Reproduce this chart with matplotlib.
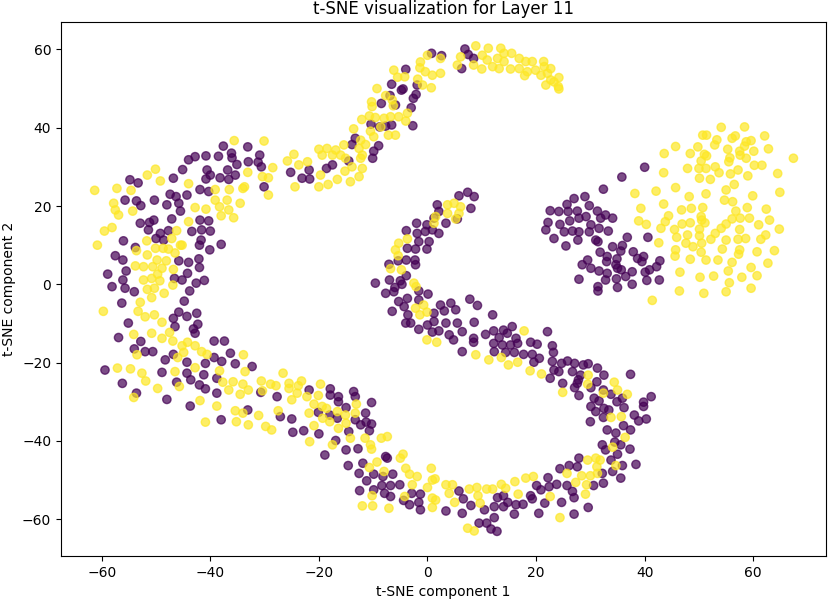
import numpy as np
import matplotlib
matplotlib.use("Agg")
import matplotlib.pyplot as plt

# t-SNE embedding, split by label (0 = purple, 1 = yellow)
label0_pts = [
    # upper-left arm
    (-37.6, 35.3), (-33.1, 35.1), (-44.0, 31.8), (-42.8, 32.6), (-40.8, 32.8), (-38.5, 32.7),
    (-36.1, 33.5), (-36.0, 32.3), (-35.1, 30.6), (-33.0, 31.3), (-45.1, 29.3), (-46.8, 27.1),
    (-40.6, 29.2), (-40.0, 27.9), (-40.8, 26.9), (-38.2, 27.2), (-36.6, 26.8), (-36.8, 29.2),
    (-35.4, 27.9), (-54.8, 26.7), (-53.3, 25.9), (-47.4, 23.0), (-46.3, 22.4), (-44.3, 22.8),
    (-41.9, 24.2), (-40.3, 23.7),
    # upper ridge
    (0.75, 59.0), (2.6, 58.4), (-4.0, 54.9), (-6.6, 51.1), (-4.8, 49.6), (-4.5, 49.9),
    (-1.9, 50.9), (-2.1, 48.5), (-2.6, 47.5), (-6.9, 48.2), (-5.9, 45.8), (-8.5, 46.2),
    (-3.0, 45.1), (-10.4, 40.9), (-8.8, 40.2), (-7.7, 40.4), (-6.6, 40.7), (-2.7, 40.5),
    (-13.3, 37.3), (-13.9, 35.7), (-9.0, 35.4), (-9.9, 34.0), (-10.1, 32.2), (-14.5, 31.5),
    (-17.5, 30.5), (-18.6, 29.6), (-21.8, 29.2), (-23.1, 27.1), (-21.7, 26.9), (-25.2, 28.6),
    (-30.9, 33.0), (-31.2, 31.2), (-30.6, 30.0), (-30.1, 24.9),
    (6.9, 60.1), (7.5, 58.7), (8.5, 57.7), (6.3, 55.1), (35.8, 27.4), (32.4, 24.3),
    (5.8, 22.6), (7.4, 23.5), (8.6, 22.4), (27.0, 21.9), (29.0, 22.4), (40.0, 29.9),
    # right purple blob
    (40.6, 12.0), (39.8, 7.1), (38.7, 6.6), (39.5, 5.8), (42.8, 6.0), (42.2, 4.5),
    (40.9, 3.7), (40.1, 3.1), (40.4, 1.0), (42.7, 1.1),
    (22.6, 18.8), (24.2, 18.6), (25.9, 18.6), (27.6, 18.7), (29.8, 20.1), (31.3, 18.7),
    (32.8, 17.7), (34.1, 16.9), (31.9, 16.9), (25.7, 20.4), (22.2, 15.8), (24.4, 15.3),
    (26.2, 16.2), (27.9, 16.9), (29.2, 17.3), (30.1, 15.2), (31.6, 14.3), (33.3, 13.6),
    (21.8, 13.9), (25.2, 13.4), (26.7, 13.6), (27.9, 13.4), (29.8, 13.4), (23.3, 11.7),
    (25.5, 9.8), (27.7, 11.3), (31.0, 11.3), (31.4, 10.9), (36.8, 12.0), (34.1, 9.6),
    (35.9, 9.9), (35.6, 8.5), (37.9, 8.3), (31.8, 8.2), (33.1, 7.1), (34.9, 6.5),
    (34.7, 5.0), (33.0, 5.8), (29.5, 6.2), (28.5, 5.0), (30.1, 4.1), (31.6, 3.4),
    (33.1, 2.8), (35.0, 4.1), (36.5, 2.0), (34.8, 1.4), (32.8, 1.1), (37.7, 3.2),
    (37.7, 0.0), (35.0, -0.8), (31.4, -0.6), (31.4, -1.7), (27.9, 1.3), (35.7, 3.7),
    # middle S
    (8.0, 19.4), (5.5, 16.7), (3.4, 15.6),
    (7.8, -3.8), (9.2, -5.4), (4.3, -4.8), (5.2, -6.5), (3.1, -6.8), (3.4, -9.9),
    (5.5, -9.9), (6.4, -12.1), (4.0, -12.9), (4.8, -14.2), (8.6, -9.7), (12.0, -7.8),
    (8.5, -13.8), (8.5, -14.8), (6.4, -17.2), (10.7, -12.8), (12.2, -11.9), (14.0, -11.7),
    (15.6, -10.8), (14.7, -12.5), (13.2, -13.6), (12.2, -15.1), (13.8, -15.5), (15.3, -15.5),
    (16.3, -13.8), (16.6, -15.1), (19.0, -14.8), (20.2, -15.3), (22.1, -12.1), (16.0, -17.4),
    (17.7, -17.9), (19.3, -17.9), (20.6, -18.9), (19.6, -19.9), (23.0, -15.7), (23.2, -17.4),
    (23.0, -19.7), (23.3, -21.9), (24.7, -20.2), (24.2, -22.3), (25.8, -19.6), (27.1, -20.2),
    (28.7, -20.6), (29.6, -20.3), (26.7, -22.3), (28.2, -23.2), (31.3, -21.4), (32.5, -23.2),
    (37.4, -23.0), (12.3, -17.2), (14.4, -17.4),
    (-32.3, -21.0),
    (1.8, 20.3), (2.1, 18.6), (1.2, 16.9), (-0.1, 15.2), (-2.0, 15.6), (-0.4, 13.5),
    (0.9, 13.9), (2.1, 13.0), (-1.9, 13.0), (-3.9, 13.7), (-1.6, 10.9), (0.3, 10.9),
    (-0.1, 9.0), (-2.2, 9.0), (-3.7, 9.2), (-2.3, 6.2), (-2.2, 5.0), (-3.9, 6.2),
    (-5.4, 6.0), (-7.1, 5.1), (-7.0, 1.1), (-5.0, 0.9), (-4.7, 0.0), (-6.0, -0.8),
    (-3.9, 2.2), (-9.6, 0.3), (-7.7, -2.3), (-6.2, -1.9), (-3.7, -3.6), (-5.3, -4.4),
    (-4.3, -5.7), (-1.6, -4.0), (0.1, -2.5), (-1.6, -1.7), (-6.5, -6.9), (-3.6, -7.8),
    (-4.0, -9.9), (-3.1, -9.9), (-1.6, -11.5), (0.0, -10.4), (1.2, -9.5), (1.2, -7.4),
    (2.4, -5.3), (0.9, -12.2), (2.1, -11.9),
    # left arc
    (-55.7, 21.5), (-53.6, 21.3), (-52.8, 20.1), (-50.3, 21.5), (-48.0, 20.3),
    (-45.8, 20.7), (-45.5, 18.7), (-47.1, 16.7),
    (-52.9, 15.6), (-51.2, 15.8), (-50.4, 16.4), (-51.4, 13.9), (-49.2, 13.0), (-47.7, 13.7),
    (-50.0, 11.7), (-48.6, 11.3),
    (-41.9, 16.4), (-40.3, 16.2), (-43.4, 13.5), (-41.6, 13.9), (-40.0, 13.6), (-41.7, 11.3),
    (-42.0, 10.0), (-38.0, 10.2), (-40.1, 8.8), (-45.8, 6.0), (-44.0, 5.6), (-42.1, 6.5),
    (-42.0, 4.3), (-44.2, 2.8), (-41.1, 1.0), (-42.6, 0.3), (-43.8, -1.7), (-44.8, -4.3),
    (-46.6, 1.5), (-45.2, 1.1),
    (-56.0, 11.1), (-57.5, 7.3), (-56.1, 6.2), (-53.8, 9.4), (-55.5, 3.4), (-58.9, 2.6),
    (-56.1, 1.1), (-58.1, -0.6), (-55.7, -1.0), (-54.0, -1.9), (-56.3, -4.8),
    (-45.8, -7.1), (-46.8, -8.7), (-44.3, -8.2), (-42.5, -7.4), (-46.5, -10.8), (-42.3, -10.2),
    (-43.1, -11.4), (-42.8, -12.5), (-55.1, -9.9), (-56.9, -13.6), (-52.8, -14.6), (-54.0, -16.5),
    (-52.0, -17.2), (-50.6, -17.2), (-48.3, -19.3), (-46.8, -17.9), (-44.3, -19.9), (-40.9, -20.2),
    (-39.3, -14.5), (-37.4, -14.5), (-39.3, -18.7), (-37.9, -19.7), (-36.3, -17.6), (-35.4, -20.3),
    (-59.4, -21.9), (-48.9, -22.5), (-44.3, -22.7), (-41.2, -23.1), (-38.8, -24.0),
    (-56.2, -25.3), (-53.6, -27.8), (-48.0, -29.4), (-46.2, -25.0), (-43.6, -24.4),
    (-42.0, -25.7), (-40.9, -26.7), (-43.7, -31.1), (-38.8, -27.8), (-38.0, -34.6), (-33.1, -32.1),
    # lower band
    (-30.7, -27.6), (-27.7, -28.7), (-27.1, -33.8), (-25.0, -34.4), (-24.8, -37.8), (-22.8, -37.4),
    (-20.0, -38.2), (-21.8, -27.0), (-17.9, -26.7), (-17.9, -28.3), (-16.4, -28.7), (-16.4, -30.0),
    (-13.6, -27.4), (-13.3, -28.7), (-10.3, -30.2), (-15.0, -31.5), (-20.1, -32.7), (-18.0, -33.4),
    (-16.6, -34.2), (-13.3, -34.6), (-12.3, -35.9), (-10.3, -35.7), (-10.7, -37.4), (-14.5, -37.6),
    (-16.9, -39.9), (-15.0, -42.3), (-12.8, -42.0), (-18.9, -43.6), (-14.6, -46.3), (-11.9, -45.7),
    (-12.6, -48.3), (-11.2, -50.2), (-9.9, -48.5), (-8.2, -49.1), (-7.7, -44.0), (-7.4, -44.4),
    (-6.4, -48.5), (-8.4, -51.4), (-6.8, -51.4), (-5.1, -51.2), (-9.9, -52.5), (-12.5, -52.7),
    (-7.9, -53.4), (-6.8, -54.2), (-4.4, -55.2), (-3.3, -56.3), (-1.6, -55.7), (-1.3, -53.6),
    (-2.9, -53.4), (-1.3, -57.6), (-11.4, -32.9), (-11.3, -35.2),
    # lower right arc
    (22.6, -24.0), (24.9, -25.3), (27.8, -24.4), (27.6, -25.3), (27.1, -26.4), (27.9, -28.4),
    (30.1, -26.4), (31.2, -24.9), (32.4, -27.0), (33.8, -28.1), (34.9, -30.0), (35.9, -29.1),
    (30.7, -29.1), (31.6, -29.8), (30.1, -31.2), (31.0, -32.5), (32.5, -31.7), (33.4, -32.1),
    (36.2, -31.5), (38.1, -33.4), (32.4, -34.0), (30.0, -35.1), (33.1, -37.2), (34.7, -38.0),
    (36.1, -36.1), (37.4, -37.2), (32.2, -41.0), (32.8, -42.3), (34.5, -40.3), (35.6, -41.0),
    (37.3, -42.1), (35.0, -43.4), (33.8, -44.9), (35.9, -46.3), (34.1, -47.8), (35.6, -49.5),
    (32.2, -48.3), (32.4, -50.8), (30.6, -51.4), (27.9, -44.4), (26.1, -46.3), (24.4, -47.1),
    (27.6, -46.6),
    (5.8, -52.8), (6.6, -54.8), (8.0, -56.5), (3.4, -57.9), (6.4, -58.5), (10.5, -57.6),
    (12.3, -56.8), (12.9, -54.5), (14.0, -54.0), (14.8, -55.7), (14.0, -56.8), (16.3, -56.3),
    (16.0, -58.7), (17.6, -56.2), (19.0, -54.0), (19.3, -54.8), (20.1, -51.4), (20.9, -52.5),
    (22.4, -51.7), (23.8, -51.1), (21.6, -55.9), (20.5, -58.5), (24.7, -55.7), (25.7, -51.4),
    (26.7, -52.9), (27.0, -54.5), (27.0, -58.7), (29.6, -57.0), (12.3, -59.6), (9.5, -61.0),
    (10.9, -61.0), (11.7, -62.5), (12.8, -63.1), (22.2, -49.4),
    (41.2, -28.7), (39.8, -30.1), (39.8, -31.2), (38.9, -34.9), (40.3, -34.4), (38.4, -46.0),
]

label1_pts = [
    # upper-left arm
    (-35.6, 36.7), (-50.1, 29.4), (-51.6, 27.9), (-33.1, 28.6), (-49.2, 26.4), (-44.0, 25.7),
    (-61.3, 24.0), (-57.2, 24.5), (-54.6, 24.0), (-39.1, 24.2), (-36.5, 24.2), (-34.0, 24.5),
    (-33.7, 24.9),
    # upper ridge
    (0.0, 58.5), (2.4, 57.7), (-1.3, 56.8), (-6.2, 54.7), (-1.4, 55.3), (-0.4, 54.3),
    (0.9, 53.4), (2.4, 53.9), (-5.5, 52.9), (-4.2, 53.0), (-1.8, 52.4), (-0.9, 50.9),
    (0.7, 50.2), (-9.3, 50.0), (-7.7, 48.2), (-6.5, 47.1), (-6.3, 45.6), (-10.3, 46.6),
    (-10.2, 45.4), (-3.7, 43.7), (-5.3, 42.8), (-4.0, 41.7), (-12.1, 42.1), (-10.7, 43.0),
    (-9.6, 42.6), (-8.0, 42.4), (-6.8, 42.8), (-13.6, 39.7), (-10.5, 39.1), (-9.9, 37.7),
    (-7.2, 38.1), (-5.9, 38.1), (-8.6, 40.2), (-12.3, 36.8), (-11.4, 35.7), (-12.6, 34.7),
    (-12.0, 33.0), (-12.3, 32.2), (-15.4, 35.6), (-16.9, 34.3), (-18.5, 34.7), (-20.0, 34.5),
    (-19.4, 33.0), (-17.5, 33.0), (-16.0, 33.0), (-15.1, 32.2), (-13.9, 30.0), (-12.0, 29.6),
    (-15.2, 28.9), (-19.7, 27.9), (-16.6, 26.8), (-18.3, 25.5), (-20.0, 24.9), (-14.2, 26.2),
    (-12.6, 27.5), (-25.8, 31.5), (-23.7, 30.5), (-24.6, 33.2), (-22.1, 31.3), (-24.4, 24.9),
    (-30.1, 36.6), (-28.5, 29.8), (-30.4, 27.5), (-29.3, 27.2), (-29.3, 22.8),
    (8.9, 60.9), (11.2, 60.3), (13.5, 60.3), (10.1, 58.5), (6.1, 58.1), (5.5, 56.0),
    (8.5, 56.0), (10.0, 55.0), (12.0, 55.6),
    (14.1, 59.0), (15.5, 59.0), (12.9, 57.7), (14.1, 56.9), (11.0, 57.3), (13.2, 55.1),
    (15.3, 55.0), (16.9, 57.7), (18.1, 56.9), (19.3, 56.9), (16.9, 55.1), (18.4, 54.3),
    (17.9, 53.3), (19.9, 54.7), (21.4, 56.9), (21.5, 55.6), (22.7, 55.1), (20.9, 53.4),
    (22.1, 53.9), (24.2, 52.8), (23.3, 51.7), (21.8, 50.9), (24.1, 50.5), (24.2, 49.9),
    (22.7, 52.2), (38.2, 23.2),
    # right yellow blob
    (54.1, 40.1), (58.4, 40.2), (50.7, 38.1), (51.4, 38.1), (53.3, 36.9), (52.9, 35.6),
    (56.1, 37.3), (56.7, 37.9), (58.7, 36.4), (59.6, 36.7), (62.1, 37.9), (45.7, 35.2),
    (43.6, 33.4), (49.8, 35.1), (48.4, 33.4), (51.0, 33.2), (51.4, 32.8), (50.4, 31.5),
    (55.3, 34.5), (55.7, 32.3), (55.5, 31.3), (57.5, 34.0), (57.6, 33.0), (58.4, 35.3),
    (60.1, 34.0), (58.7, 32.2), (62.8, 34.6), (60.2, 30.4), (61.6, 30.4), (67.4, 32.2),
    (43.5, 28.5), (47.9, 29.6), (50.0, 29.6), (51.3, 29.6), (53.0, 30.0), (53.7, 28.5),
    (55.8, 28.2), (57.2, 29.2), (59.0, 27.7), (64.5, 28.3), (50.1, 27.1), (52.1, 26.8),
    (56.5, 25.5), (45.7, 24.7), (42.1, 23.8), (55.0, 24.1), (51.3, 23.1), (48.2, 22.4),
    (59.9, 22.6), (64.9, 23.5),
    (43.5, 20.5), (39.3, 19.4), (46.8, 19.0), (48.6, 19.4), (50.7, 19.6), (54.7, 21.5),
    (56.2, 21.1), (56.8, 18.7), (58.9, 19.6), (62.4, 19.2), (44.4, 17.5), (43.8, 16.0),
    (38.9, 16.2), (40.3, 15.3), (43.0, 14.3), (45.5, 14.0), (46.9, 15.4), (48.4, 15.7),
    (50.4, 17.3), (50.5, 16.4), (51.1, 15.7), (50.1, 14.1), (50.1, 12.4), (47.9, 12.6),
    (45.9, 12.0), (47.6, 10.5), (48.9, 9.6), (50.5, 10.5), (52.2, 11.5), (53.0, 13.0),
    (54.1, 14.3), (55.0, 15.4), (56.1, 16.7), (57.6, 16.9), (59.3, 16.9), (57.5, 14.0),
    (55.0, 11.3), (57.2, 11.5), (58.6, 11.7), (61.0, 15.2), (63.0, 16.4), (64.8, 14.1),
    (61.4, 11.5), (62.3, 12.6), (42.6, 10.6), (45.7, 8.8), (45.6, 7.2), (48.4, 6.4),
    (50.4, 8.2), (51.3, 6.2), (53.5, 6.2), (54.3, 9.0), (57.5, 8.8), (57.3, 7.7),
    (56.1, 5.6), (60.7, 8.3), (63.9, 8.6), (62.7, 5.4), (59.6, 4.3), (60.7, 2.2),
    (57.9, 1.8), (55.4, 3.4), (55.6, 0.4), (52.7, 2.1), (50.2, 1.8), (46.5, 3.1),
    (46.4, -1.7), (50.9, -2.3), (55.0, -1.9), (59.6, -1.0), (41.4, -4.1),
    # middle S
    (3.7, 20.3), (4.9, 20.7), (6.1, 19.8), (5.8, 18.1), (3.7, 18.1), (5.2, 16.7),
    (17.8, -11.9), (8.9, -18.0), (11.3, -19.3), (13.6, -18.7), (14.9, -20.6), (16.6, -19.9),
    (18.9, -22.1), (21.0, -22.9), (29.6, -23.2),
    (-26.6, -22.7),
    (1.2, 15.6), (1.5, 17.3), (-3.7, 11.6), (-5.3, 10.5), (-5.9, 8.8), (-5.4, 7.3),
    (-6.8, 4.0), (-4.8, 3.7), (-2.5, 0.3), (-2.1, -0.6), (-2.2, -6.1), (-0.7, -5.3),
    (-1.4, -7.8), (-0.1, -7.1), (-0.1, -14.2), (1.7, -14.8),
    # left arc
    (-57.8, 20.7), (-57.5, 19.0), (-56.9, 17.7), (-54.3, 18.7), (-58.1, 14.5), (-59.5, 13.6),
    (-60.8, 10.0), (-51.7, 11.1), (-50.1, 9.2), (-48.7, 9.2), (-47.7, 9.0), (-46.5, 8.0),
    (-45.2, 10.0), (-53.6, 8.6), (-51.6, 7.5), (-49.8, 6.2), (-48.1, 6.0), (-50.6, 4.5),
    (-48.9, 4.1), (-52.3, 4.5), (-53.8, 4.7), (-46.8, 3.8), (-52.3, 1.1), (-50.8, 1.5),
    (-49.7, 2.6), (-49.3, 0.9), (-51.6, -1.3), (-50.3, -1.0), (-48.5, -2.3), (-46.9, -0.2),
    (-50.8, -3.4), (-52.9, -4.6), (-53.3, -6.9), (-52.0, -8.3), (-50.3, -7.8), (-48.9, -9.7),
    (-59.7, -6.9),
    (-44.0, 16.0), (-46.2, 13.7), (-47.1, 11.7), (-45.5, 10.0),
    (-42.8, 19.6), (-40.8, 19.2), (-38.0, 17.5), (-35.7, 17.0), (-34.5, 20.7), (-39.1, 21.5),
    (-38.3, 19.8), (-36.6, 19.0), (-36.9, 21.5),
    (-54.1, -12.8), (-50.8, -12.5), (-48.9, -13.8), (-47.5, -12.3), (-46.9, -14.5), (-45.2, -15.7),
    (-44.2, -14.8), (-42.8, -15.7), (-41.6, -17.2), (-40.6, -17.9), (-44.9, -17.4), (-46.0, -18.7),
    (-46.5, -22.3), (-42.8, -21.3), (-38.3, -22.1), (-53.5, -18.0), (-54.7, -21.6), (-57.1, -21.4),
    (-52.6, -22.7), (-33.9, -18.0), (-33.6, -22.3),
    (-54.1, -28.9), (-51.9, -24.7), (-49.7, -26.6), (-45.7, -26.1), (-41.9, -29.7), (-40.9, -35.2),
    (-38.8, -31.1), (-37.7, -25.0), (-35.8, -24.9), (-36.6, -27.0), (-34.5, -28.1), (-34.0, -25.5),
    (-33.0, -27.0), (-35.4, -32.3), (-34.0, -32.9), (-35.2, -35.1), (-33.0, -35.9),
    # lower band
    (-30.6, -24.7), (-28.9, -25.5), (-27.9, -25.9), (-25.5, -25.3), (-23.8, -25.9), (-23.2, -24.7),
    (-25.5, -26.6), (-24.0, -27.8), (-25.0, -29.5), (-22.2, -28.7), (-19.7, -25.5), (-20.1, -28.4),
    (-20.9, -30.6), (-19.4, -31.2), (-18.6, -31.7), (-21.8, -32.9), (-19.3, -34.2), (-18.0, -35.1),
    (-16.6, -32.5), (-16.4, -36.8), (-20.9, -36.1), (-21.7, -40.2), (-17.5, -41.0), (-15.1, -33.4),
    (-15.0, -35.5), (-14.2, -39.3), (-13.1, -30.6), (-13.3, -32.9), (-11.5, -39.3), (-10.5, -41.0),
    (-10.3, -42.1), (-8.5, -39.3), (-7.4, -38.9), (-9.3, -45.4), (-10.7, -46.8), (-8.0, -47.8),
    (-5.0, -44.4), (-4.5, -43.4), (-4.0, -47.0), (-3.3, -48.5), (-1.9, -49.1), (-2.8, -51.2),
    (0.0, -51.9), (0.9, -50.0), (1.4, -49.7), (0.7, -47.0), (-10.2, -54.0), (-12.0, -56.6),
    (-10.1, -56.6), (-7.1, -57.2), (-4.2, -54.2), (0.9, -54.6), (1.5, -55.1), (0.9, -57.0),
    (-31.1, -33.5), (-29.8, -36.3), (-28.7, -37.2), (-27.5, -32.3), (-30.4, -27.2),
    # lower right arc
    (24.9, -27.6), (29.5, -25.5), (34.4, -25.0), (35.0, -27.0), (36.8, -28.1), (32.4, -27.8),
    (33.8, -34.0), (35.7, -33.8), (36.4, -39.1), (34.1, -41.6), (34.7, -46.3), (29.5, -44.9),
    (31.0, -44.4), (31.8, -44.9), (31.2, -46.6), (31.3, -48.3), (30.0, -48.9), (28.4, -48.9),
    (27.3, -50.6), (29.3, -51.2), (29.1, -53.6), (25.7, -48.3), (22.6, -54.2), (18.1, -49.5),
    (19.5, -49.1), (16.1, -50.4), (16.7, -53.6), (13.6, -51.1), (14.4, -52.1), (12.0, -52.3),
    (10.9, -52.3), (9.1, -51.9), (7.7, -52.3), (9.3, -54.0), (9.7, -55.9), (5.0, -55.7),
    (4.0, -53.4), (4.6, -51.2), (3.4, -51.2), (7.4, -62.3), (8.6, -63.0), (24.4, -59.6),
]

xticks = [-60, -40, -20, 0, 20, 40, 60]
yticks = [-60, -40, -20, 0, 20, 40, 60]

p0 = np.array(label0_pts)
p1 = np.array(label1_pts)
emb = np.vstack([p0, p1])
labels = np.concatenate([np.zeros(len(p0)), np.ones(len(p1))])

fig = plt.figure(figsize=(8.3, 6), dpi=100)
ax = fig.add_axes([61 / 830, 1 - 556 / 600, 765 / 830, 534 / 600])
ax.scatter(emb[:, 0], emb[:, 1], c=labels, cmap='viridis', alpha=0.7)
ax.set_xlim(-67.5, 73.4)
ax.set_ylim(-69.4, 67.0)
ax.set_xticks(xticks)
ax.set_yticks(yticks)
ax.set_title('t-SNE visualization for Layer 11')
ax.set_xlabel('t-SNE component 1')
ax.set_ylabel('t-SNE component 2')

fig.savefig('out.png', dpi=100)
